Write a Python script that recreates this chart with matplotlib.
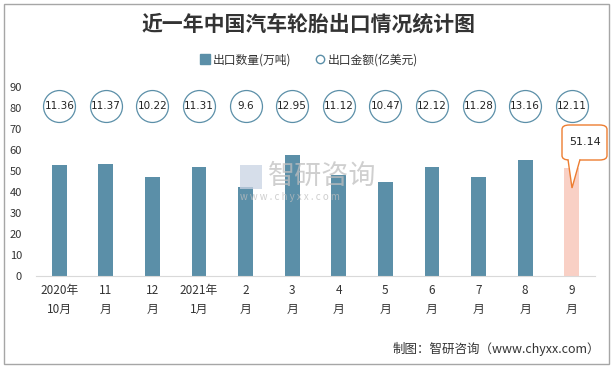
import matplotlib
matplotlib.use("Agg")
import matplotlib.pyplot as plt
from matplotlib.patches import FancyBboxPatch, Polygon, Rectangle
from matplotlib.lines import Line2D

plt.rcParams['font.family'] = ['Noto Sans CJK SC', 'DejaVu Sans']

categories = ["2020年\n10月", "11\n月", "12\n月", "2021年\n1月", "2\n月", "3\n月",
              "4\n月", "5\n月", "6\n月", "7\n月", "8\n月", "9\n月"]
export_volume = [52.8, 53.3, 47.1, 51.8, 42.5, 57.5, 48.0, 44.7, 51.8, 47.1, 55.2, 51.14]
export_value = [11.36, 11.37, 10.22, 11.31, 9.6, 12.95, 11.12, 10.47, 12.12, 11.28, 13.16, 12.11]
value_labels = ["11.36", "11.37", "10.22", "11.31", "9.6", "12.95", "11.12", "10.47",
                "12.12", "11.28", "13.16", "12.11"]

W, H = 614, 367
fig = plt.figure(figsize=(W / 100, H / 100), dpi=100)
fig.patch.set_facecolor('white')

# outer border
fig.add_artist(Rectangle((4 / W, 3 / H), 605 / W, 360 / H, transform=fig.transFigure,
                         fill=False, edgecolor='#A6A6A6', linewidth=1.0))

ax = fig.add_axes([36 / W, 1 - 276 / H, 559 / W, (276 - 86.7) / H])
x = list(range(len(categories)))
bar_color = '#5B8FA8'
colors = [bar_color] * (len(categories) - 1) + ['#F9D0C5']
ax.bar(x, export_volume, width=0.32, color=colors, zorder=2)

ax.set_xlim(-0.5, len(categories) - 0.5)
ax.set_ylim(0, 90)
ax.set_yticks(range(0, 91, 10))
ax.tick_params(axis='y', length=0, labelsize=8, colors='#333333', pad=10)
ax.tick_params(axis='x', length=0, labelsize=8.5, colors='#333333', pad=6)
ax.set_xticks(x)
ax.set_xticklabels(categories, linespacing=1.6)
for s in ['top', 'right', 'left']:
    ax.spines[s].set_visible(False)
ax.spines['bottom'].set_color('#D9D9D9')

# circle labels for export value
circle_y = [81] * len(categories)
ax.plot(x, circle_y, linestyle='none', marker='o', markersize=23,
        markerfacecolor='white', markeredgecolor='#5B8FA8', markeredgewidth=0.9,
        zorder=3, clip_on=False)
for xi, lab in zip(x, value_labels):
    ax.text(xi, 81, lab, ha='center', va='center', fontsize=7.5, color='#222222',
            zorder=4, family=['DejaVu Sans'])

# callout for last bar
cx0, cy0 = 562, 124
bx = FancyBboxPatch((cx0 / W, 1 - 160 / H), 45 / W, 35 / H, transform=fig.transFigure,
                    boxstyle="round,pad=0,rounding_size=0.012", facecolor='white',
                    edgecolor='#ED7D31', linewidth=1.0, zorder=5)
fig.add_artist(bx)
tri = Polygon([(568 / W, 1 - 159.5 / H), (572 / W, 1 - 188 / H), (580 / W, 1 - 159.5 / H)],
              closed=False, transform=fig.transFigure, facecolor='white',
              edgecolor='#ED7D31', linewidth=1.0, zorder=6)
fig.add_artist(tri)
fig.add_artist(Rectangle((568.8 / W, 1 - 161 / H), 10.4 / W, 3 / H, transform=fig.transFigure,
                         facecolor='white', edgecolor='none', zorder=7))
fig.text(585 / W, 1 - 142 / H, "51.14", ha='center', va='center', fontsize=8,
         color='#222222', family=['DejaVu Sans'], zorder=8)

# watermark
fig.text(268 / W, 1 - 176 / H, "智研咨询", ha='left', va='center', fontsize=19.5,
         color='#BFBFBF', alpha=0.75, zorder=1)
fig.text(240 / W, 1 - 197 / H, "w w w . c h y x x . c o m", ha='left', va='center',
         fontsize=7, color='#BFBFBF', alpha=0.75, zorder=1)
fig.add_artist(Rectangle((240 / W, 1 - 189 / H), 22 / W, 24 / H, transform=fig.transFigure,
                         facecolor='#C9D3E3', edgecolor='none', alpha=0.75, zorder=1))

# title
fig.text(309 / W, 1 - 24 / H, "近一年中国汽车轮胎出口情况统计图", ha='center', va='center',
         fontsize=15, fontweight='bold', color='#333333')

# legend
leg_handles = [Line2D([], [], linestyle='none', marker='s', markersize=7,
                      markerfacecolor=bar_color, markeredgecolor=bar_color),
               Line2D([], [], linestyle='none', marker='o', markersize=6,
                      markerfacecolor='white', markeredgecolor='#5B8FA8')]
fig.legend(leg_handles, ["出口数量(万吨)", "出口金额(亿美元)"], loc='center',
           bbox_to_anchor=(309 / W, 1 - 60 / H), ncol=2, frameon=False, fontsize=8.5,
           handlelength=0.8, handletextpad=0.3, columnspacing=2.0, labelcolor='#333333')

# source
fig.text(600 / W, 1 - 349 / H, "制图：智研咨询（www.chyxx.com）", ha='right', va='center',
         fontsize=9, color='#333333')

fig.savefig("out.png", dpi=100)
